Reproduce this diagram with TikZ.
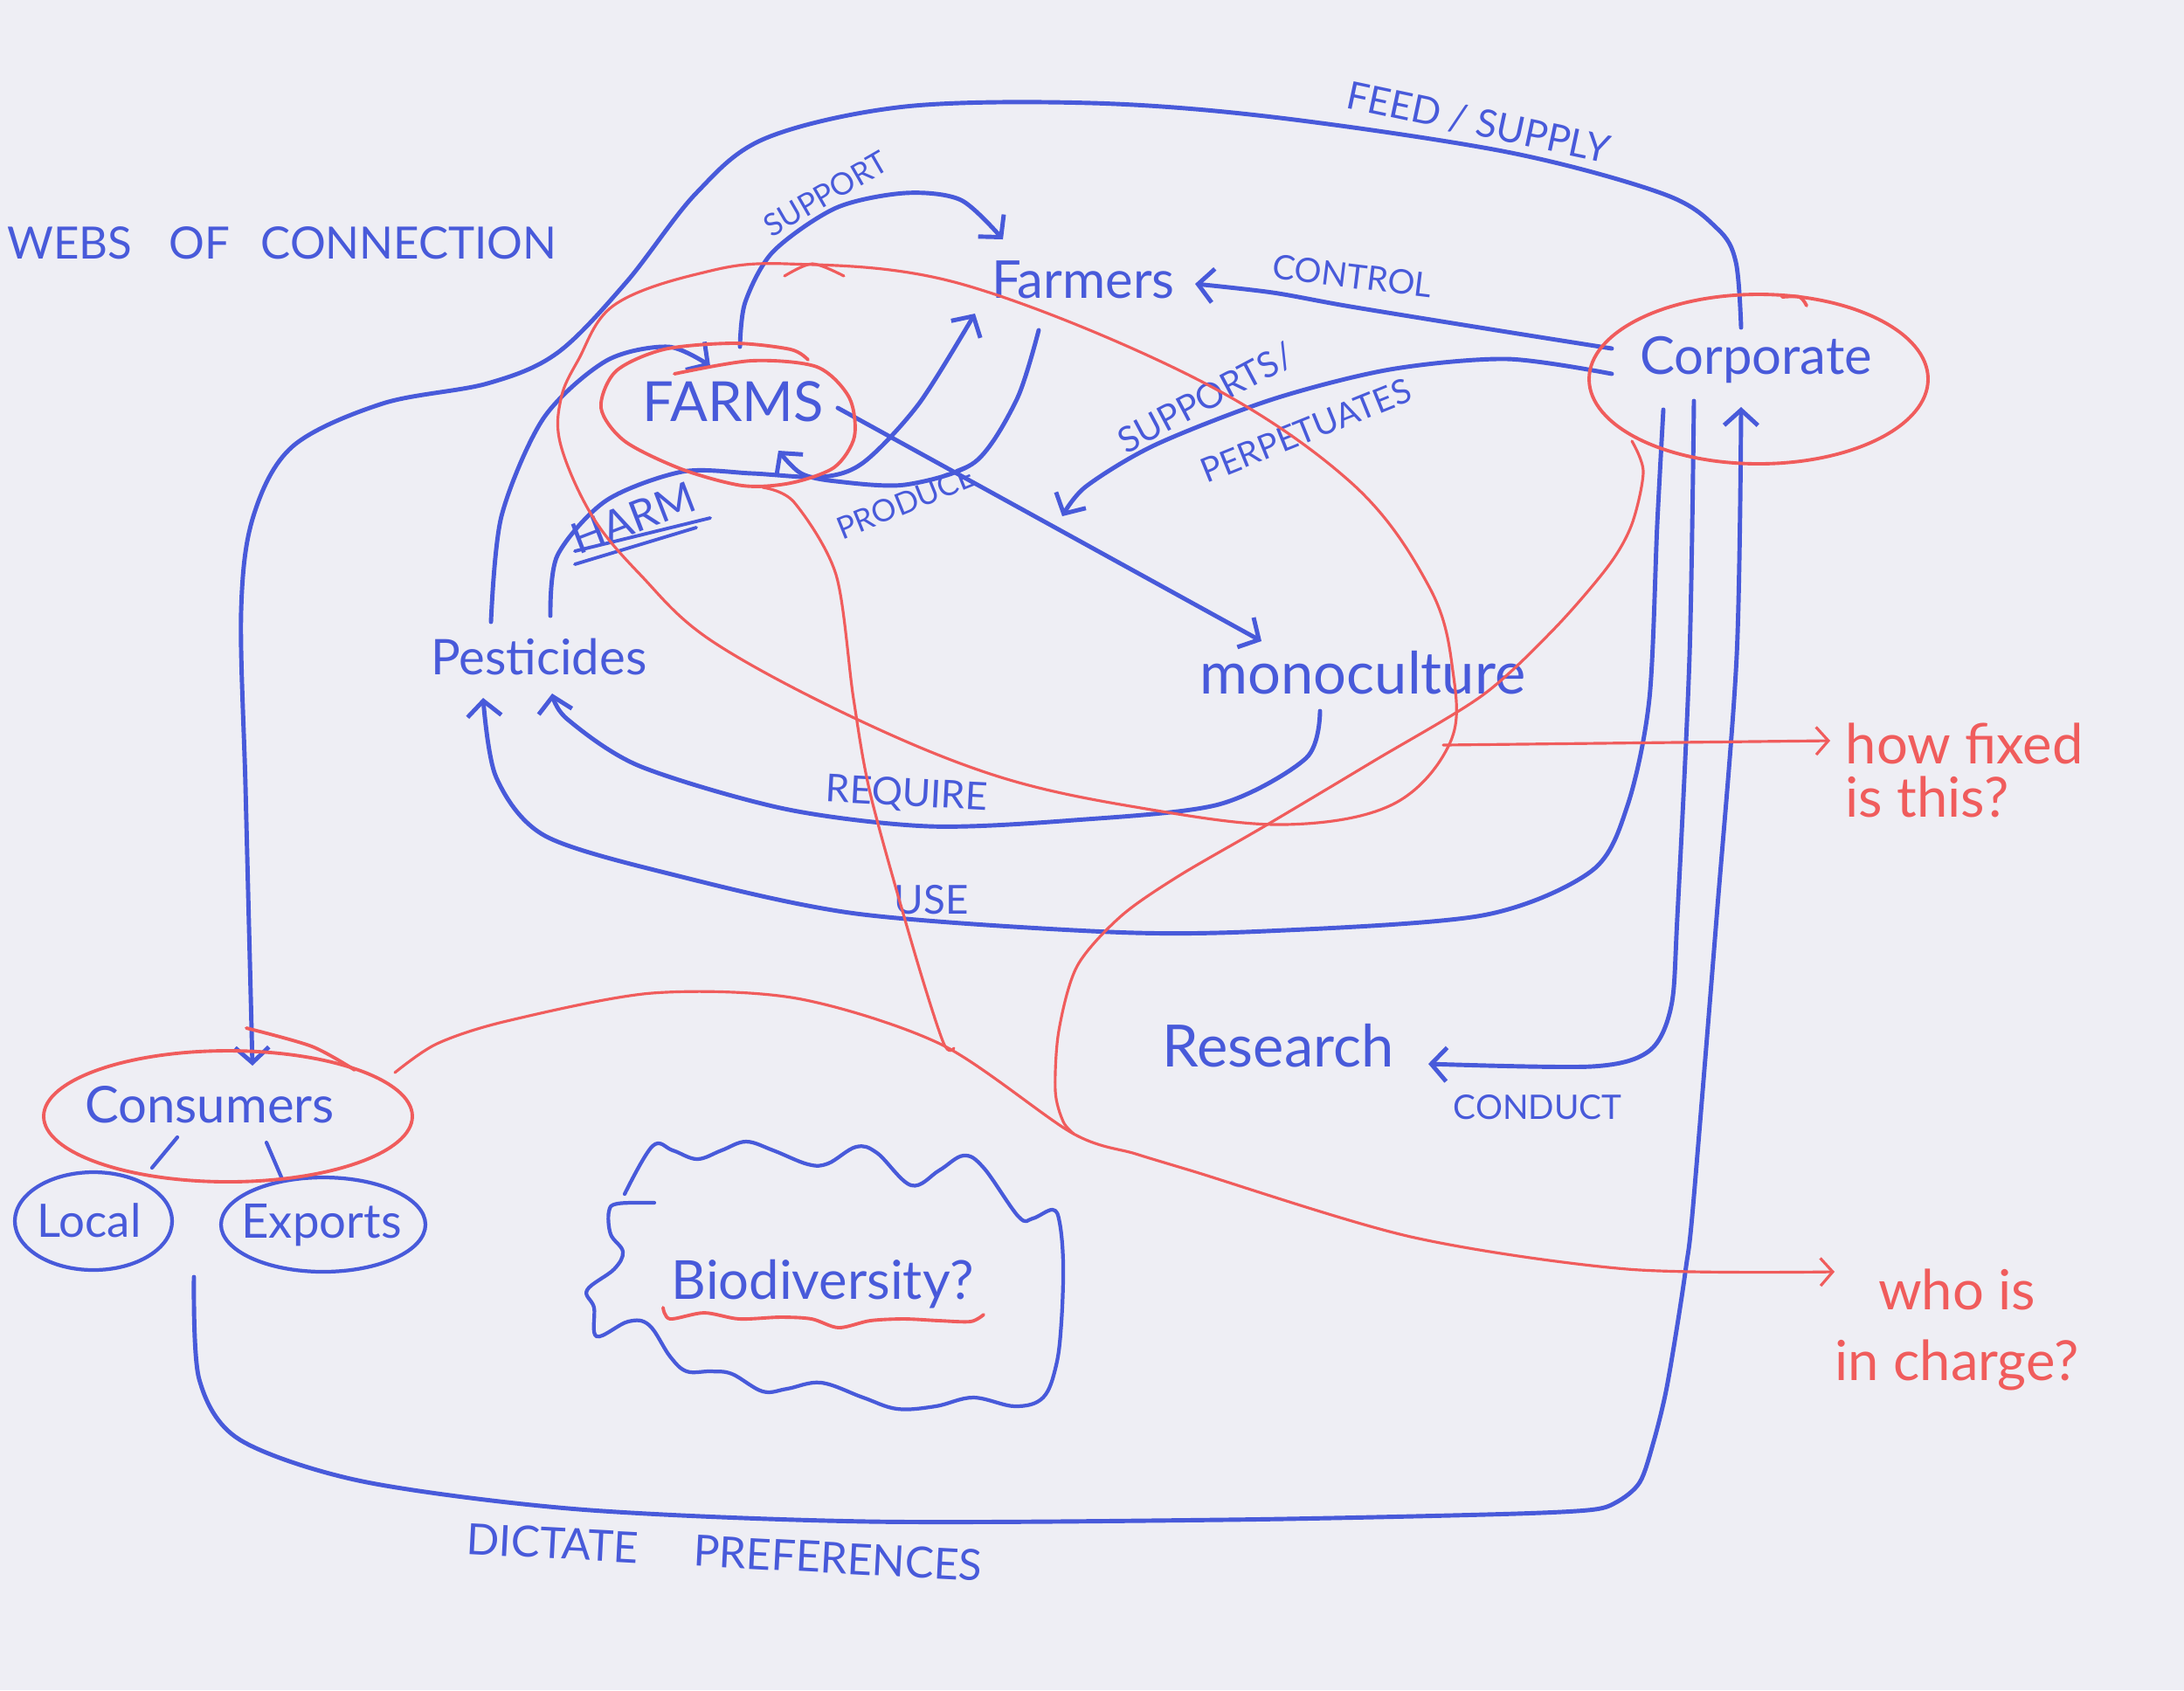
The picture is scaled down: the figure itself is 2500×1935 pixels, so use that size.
\documentclass[tikz,border=0pt]{standalone}
\usepackage{fontspec}
\setmainfont{Lato}
\usetikzlibrary{arrows.meta}
\definecolor{pen}{RGB}{72,90,218}
\definecolor{redpen}{RGB}{240,92,92}
\definecolor{paper}{RGB}{238,238,244}
\newcommand{\myfs}[1]{\fontsize{#1}{#1}\selectfont}
\begin{document}
\begin{tikzpicture}[x=0.01cm,y=-0.01cm,
  bl/.style={draw=pen,line width=1.4pt,line cap=round,line join=round},
  rd/.style={draw=redpen,line width=0.9pt,line cap=round,line join=round},
  tip/.style={-{Straight Barb[length=5pt,width=11pt]}},
  rtip/.style={-{Straight Barb[length=4pt,width=9pt]}},
  txt/.style={text=pen,inner sep=0pt},
  rtxt/.style={text=redpen,inner sep=0pt}]
\fill[paper] (0,0) rectangle (2500,1935);
\useasboundingbox (0,0) rectangle (2500,1935);

% ---------- text nodes ----------
\node[txt,font=\myfs{14.5}] (title) at (323,278) {WEBS\hspace{12pt}OF\hspace{10pt}CONNECTION};
\node[txt,font=\myfs{17}] (farmers) at (1240,320) {Farmers};
\node[txt,font=\myfs{17}] (corporate) at (2010,412) {Corporate};
\node[txt,font=\myfs{18}] (farms) at (839,460) {FARMS};
\node[txt,font=\myfs{16}] (pest) at (617,752) {Pesticides};
\node[txt,font=\myfs{19}] (mono) at (1560,770) {monoculture};
\node[txt,font=\myfs{19}] (research) at (1463,1197) {Research};
\node[txt,font=\myfs{16.5}] (consumers) at (240,1265) {Consumers};
\node[txt,font=\myfs{15}] (local) at (102,1397) {Local};
\node[txt,font=\myfs{15.5}] (exports) at (368,1403) {Exports};
\node[txt,font=\myfs{17.5}] (bio) at (942,1470) {Biodiversity?};
\node[rtxt,font=\fontsize{18}{17.5}\selectfont,align=left,anchor=west] (fixed) at (2112,882) {how fixed\\is this?};
\node[rtxt,font=\fontsize{18}{23}\selectfont,align=center] (charge) at (2240,1522) {who is\\in charge?};

% ---------- connector labels ----------
\node[txt,font=\myfs{10},rotate=30] (lsupport) at (945,222) {SUPPORT};
\node[txt,font=\myfs{11},rotate=-7] (lcontrol) at (1548,316) {CONTROL};
\node[txt,font=\myfs{12.5},rotate=-12] (lfeed) at (1692,140) {FEED / SUPPLY};
\node[txt,font=\myfs{11.5},rotate=28] (lsupports) at (1380,456) {SUPPORTS/};
\node[txt,font=\myfs{11},rotate=22] (lperp) at (1495,493) {PERPETUATES};
\node[txt,font=\myfs{14},rotate=21] (lharm) at (725,593) {HARM};
\node[txt,font=\myfs{10},rotate=22] (lproduce) at (1037,575) {PRODUCE};
\node[txt,font=\myfs{12.5},rotate=-3] (lrequire) at (1038,910) {REQUIRE};
\node[txt,font=\myfs{13}] (luse) at (1066,1030) {USE};
\node[txt,font=\myfs{11}] (lconduct) at (1760,1268) {CONDUCT};
\node[txt,font=\myfs{14},rotate=-3] (ldictate) at (829,1777) {DICTATE\hspace{18pt}PREFERENCES};

% HARM double underline
\coordinate (hu1a) at (658,631); \coordinate (hu1b) at (813,593);
\coordinate (hu2a) at (658,646); \coordinate (hu2b) at (797,604);
\draw[bl,line width=1.1pt] (hu1a) -- (hu1b);
\draw[bl,line width=1.1pt] (hu2a) -- (hu2b);

% ---------- endpoints ----------
\coordinate (feedS) at (1993,375);   \coordinate (feedE) at (289,1220);
\coordinate (ctrlS) at (1845,399);   \coordinate (ctrlE) at (1368,325);
\coordinate (suppS) at (1845,428);   \coordinate (suppE) at (1216,591);
\coordinate (useS) at (1904,469);    \coordinate (useE) at (553,799);
\coordinate (condS) at (1939,459);   \coordinate (condE) at (1635,1218);
\coordinate (dictS) at (222,1462);   \coordinate (dictE) at (1993,466);
\coordinate (sptS) at (847,397);     \coordinate (sptE) at (1148,274);
\coordinate (pfS) at (562,712);      \coordinate (pfE) at (813,419);
\coordinate (harmS) at (630,705);    \coordinate (harmE) at (1116,359);
\coordinate (prodS) at (1189,378);   \coordinate (prodE) at (891,516);
\coordinate (monoS) at (959,467);    \coordinate (monoE) at (1444,734);
\coordinate (reqS) at (1511,814);    \coordinate (reqE) at (632,794);

% ---------- blue connectors ----------
\draw[bl,tip] plot[smooth,tension=0.55] coordinates {(feedS) (1987,300) (1966,262) (1904,222) (1725,174) (1457,134) (1250,118) (1036,122) (877,158) (797,221) (717,323) (638,404) (558,439) (438,462) (335,511) (290,591) (276,700) (281,900) (286,1100) (feedE)};
\draw[bl,tip] plot[smooth] coordinates {(ctrlS) (1725,380) (1546,351) (1457,335) (ctrlE)};
\draw[bl,tip] plot[smooth] coordinates {(suppS) (1725,411) (1591,423) (1457,457) (1323,509) (1243,557) (suppE)};
\draw[bl,tip] plot[smooth] coordinates {(useS) (1897,600) (1888,800) (1863,922) (1822,997) (1697,1048) (1449,1066) (1271,1067) (980,1046) (773,1002) (624,957) (568,890) (useE)};
\draw[bl,tip] plot[smooth] coordinates {(condS) (1934,750) (1920,1050) (1913,1152) (1888,1203) (1822,1221) (condE)};
\draw[bl,tip] plot[smooth,tension=0.5] coordinates {(dictS) (228,1579) (274,1648) (415,1696) (663,1728) (995,1742) (1400,1740) (1700,1734) (1817,1729) (1850,1720) (1877,1697) (1893,1650) (1907,1593) (1920,1517) (1930,1450) (1938,1381) (1965,1050) (1988,750) (dictE)};
\draw[bl,tip] plot[smooth] coordinates {(sptS) (853,346) (885,288) (957,238) (1036,221) (1100,229) (sptE)};
\draw[bl,tip] plot[smooth] coordinates {(pfS) (574,591) (622,479) (694,413) (765,397) (pfE)};
\draw[bl,tip] plot[smooth] coordinates {(harmS) (638,636) (694,573) (781,540) (861,542) (941,546) (989,529) (1052,462) (harmE)};
\draw[bl,tip] plot[smooth] coordinates {(prodS) (1164,457) (1116,529) (1036,555) (957,551) (917,542) (prodE)};
\draw[bl,tip] (monoS) -- (monoE);
\draw[bl,tip] plot[smooth] coordinates {(reqS) (1495,868) (1395,921) (1229,939) (1063,946) (898,926) (732,877) (649,823) (reqE)};

% consumers branches
\coordinate (cl1) at (203,1302); \coordinate (cl2) at (174,1337);
\coordinate (ce1) at (305,1308); \coordinate (ce2) at (323,1350);
\draw[bl,line width=1.2pt] (cl1) -- (cl2);
\draw[bl,line width=1.2pt] (ce1) -- (ce2);

% Local / Exports ovals
\draw[bl,line width=1.2pt] (107,1398) ellipse [x radius=90,y radius=56];
\draw[bl,line width=1.2pt] (370,1402) ellipse [x radius=117,y radius=54];

% Biodiversity cloud
\draw[bl,line width=1.2pt] plot[smooth,tension=0.6] coordinates {(715,1367) (747,1312) (770,1317) (798,1327) (826,1317) (854,1307) (885,1317) (925,1333) (948,1332) (980,1313) (1004,1320) (1043,1357) (1075,1340) (1103,1323) (1126,1337) (1166,1393) (1182,1395) (1205,1385) (1213,1400) (1217,1447) (1215,1513) (1209,1563) (1194,1600) (1162,1610) (1114,1600) (1071,1610) (1027,1613) (988,1600) (940,1583) (901,1590) (873,1593) (838,1573) (814,1570) (786,1570) (767,1553) (743,1517) (719,1513) (683,1530) (680,1497) (672,1477) (703,1453) (713,1433) (699,1413) (697,1387) (707,1378) (749,1377)};

% ---------- red shapes ----------
% FARMS loop
\draw[rd,line width=1.1pt] plot[smooth] coordinates {(772,428) (860,413) (935,420) (972,455) (978,500) (955,535) (905,553) (850,556) (780,537) (715,505) (688,467) (705,425) (760,400) (840,393) (905,400) (925,412)};
% big loop
\draw[rd] plot[smooth cycle,tension=0.6] coordinates {(900,302) (1100,325) (1368,433) (1546,552) (1636,672) (1663,768) (1660,850) (1594,921) (1470,944) (1312,926) (1146,890) (980,823) (815,734) (733,658) (678,591) (642,510) (642,457) (662,412) (702,350) (797,314)};
\draw[rd] plot[smooth] coordinates {(898,316) (930,302) (966,316)};
% corporate oval
\draw[rd,line width=1.1pt] (2013,434) ellipse [x radius=194,y radius=97];
\draw[rd,line width=1.1pt] plot[smooth] coordinates {(2040,340) (2060,340) (2068,350)};
% consumers oval
\draw[rd,line width=1.1pt] (261,1278) ellipse [x radius=211,y radius=75];
\draw[rd,line width=1.1pt] plot[smooth] coordinates {(282,1177) (357,1198) (406,1225)};

\coordinate (fixS) at (1652,853); \coordinate (fixE) at (2095,848);
\draw[rd,rtip] (fixS) -- (fixE);

\coordinate (corpS) at (1868,505); \coordinate (corpE) at (1229,1298);
\draw[rd] plot[smooth] coordinates {(corpS) (1881,540) (1868,600) (1841,648) (1779,720) (1697,796) (1573,871) (1449,945) (1349,1003) (1283,1049) (1233,1106) (1212,1180) (1208,1249) (1217,1284) (corpE)};

\coordinate (farmS) at (873,558); \coordinate (farmE) at (1092,1200);
\draw[rd] plot[smooth] coordinates {(farmS) (909,575) (957,658) (977,800) (997,912) (1047,1091) (1080,1194) (farmE)};

\coordinate (consS) at (452,1228); \coordinate (consE) at (2100,1456);
\draw[rd,rtip] plot[smooth] coordinates {(consS) (500,1195) (580,1169) (746,1137) (912,1143) (1078,1196) (1227,1297) (1300,1321) (1366,1341) (1615,1416) (1863,1453) (consE)};

% red wavy underline
\draw[rd,line width=1.1pt] plot[smooth] coordinates {(759,1497) (767,1510) (806,1503) (846,1510) (893,1508) (929,1510) (960,1520) (996,1512) (1035,1510) (1075,1512) (1111,1513) (1126,1505)};
\end{tikzpicture}
\end{document}
